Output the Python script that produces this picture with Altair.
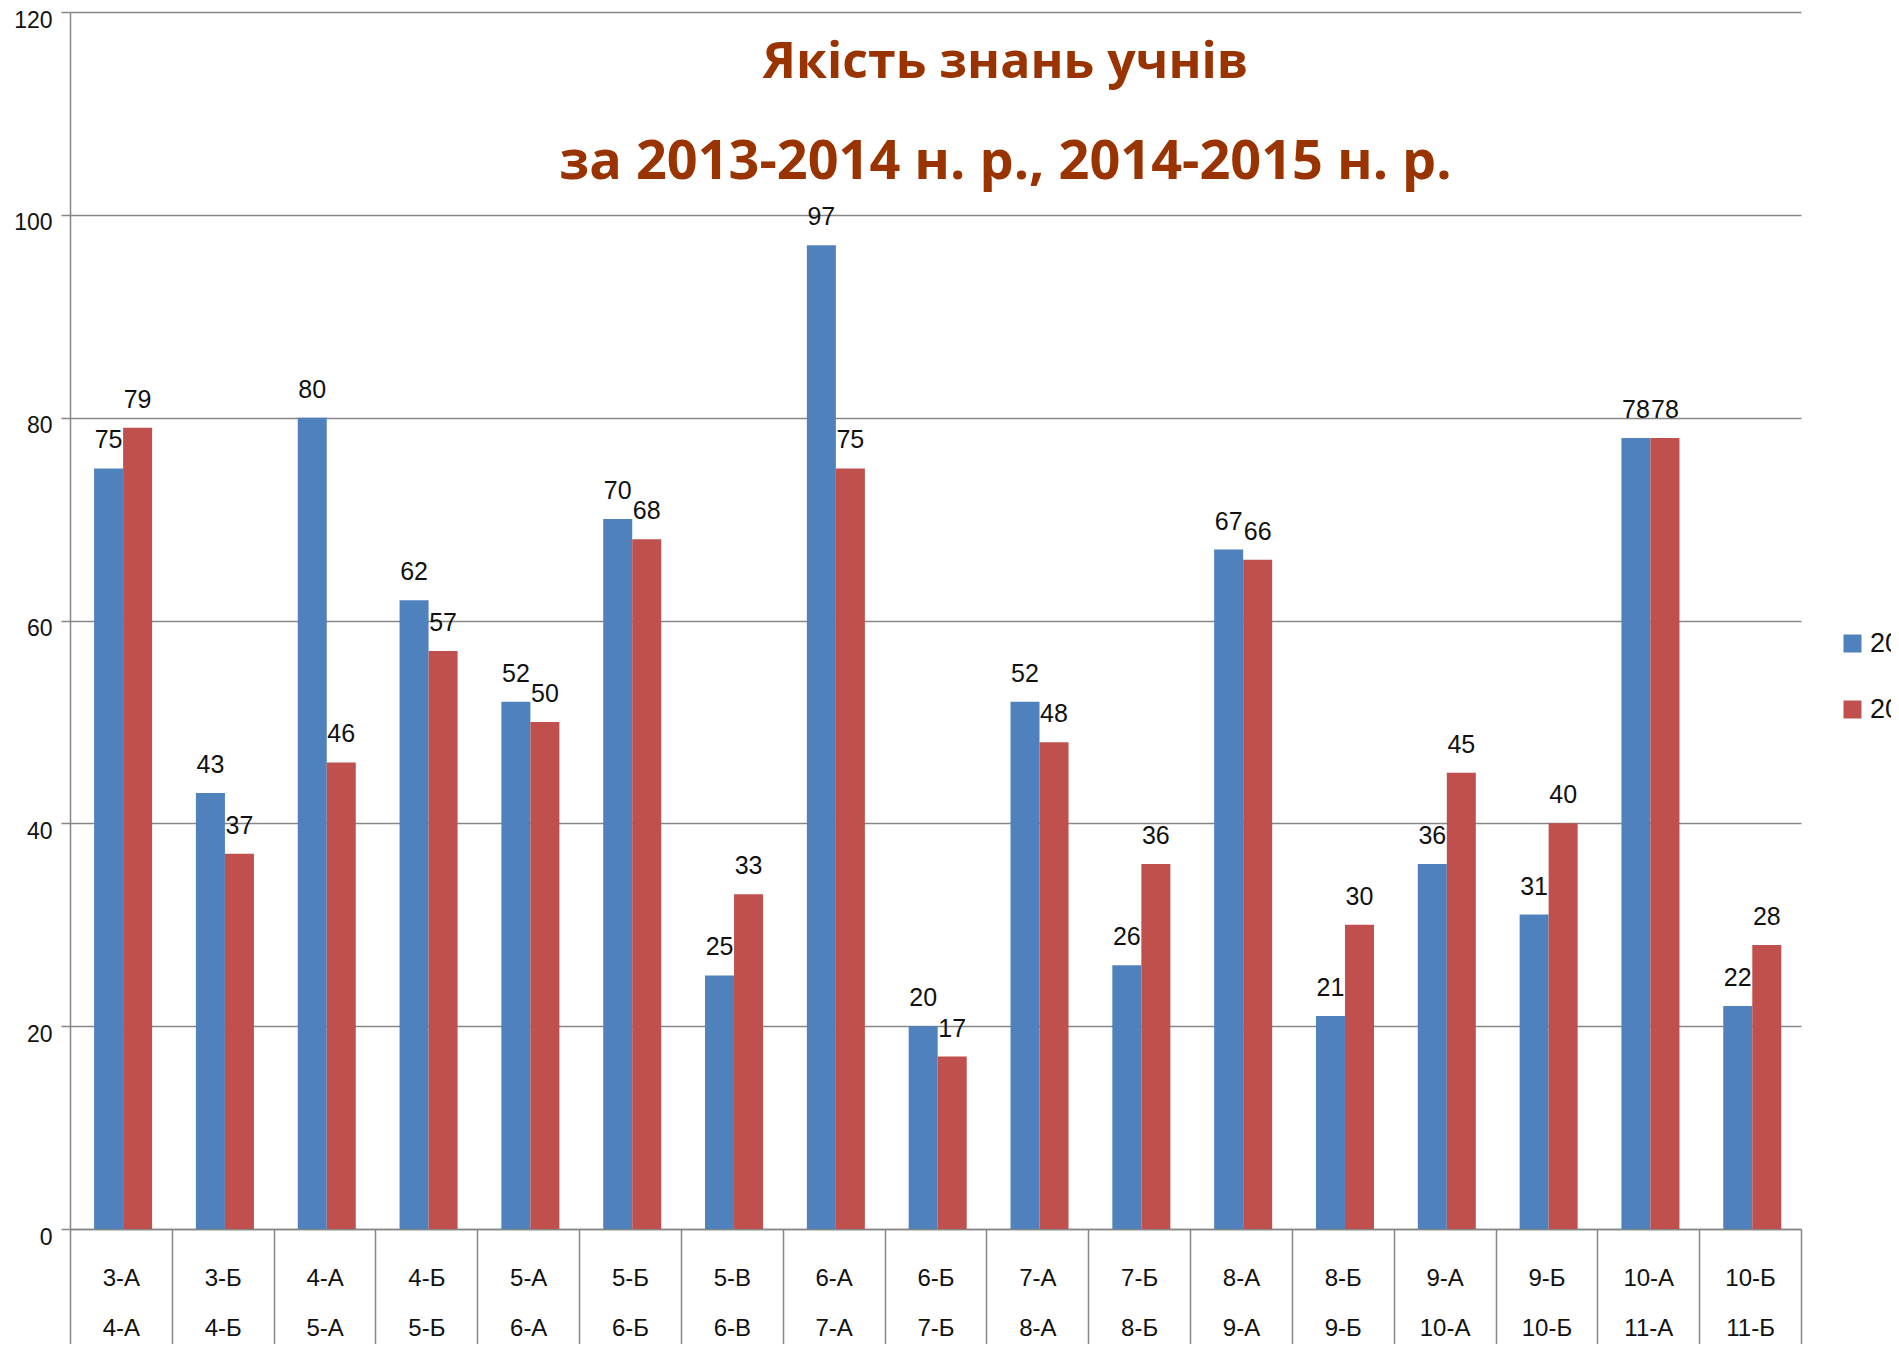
import altair as alt
import pandas as pd

classes_2014 = ["3-А", "3-Б", "4-А", "4-Б", "5-А", "5-Б", "5-В", "6-А", "6-Б",
                "7-А", "7-Б", "8-А", "8-Б", "9-А", "9-Б", "10-А", "10-Б"]
classes_2015 = ["4-А", "4-Б", "5-А", "5-Б", "6-А", "6-Б", "6-В", "7-А", "7-Б",
                "8-А", "8-Б", "9-А", "9-Б", "10-А", "10-Б", "11-А", "11-Б"]
values_2014 = [75, 43, 80, 62, 52, 70, 25, 97, 20, 52, 26, 67, 21, 36, 31, 78, 22]
values_2015 = [79, 37, 46, 57, 50, 68, 33, 75, 17, 48, 36, 66, 30, 45, 40, 78, 28]
series = ["2013-2014", "2014-2015"]
colors = ["#4F81BD", "#C0504D"]
y_ticks = [0, 20, 40, 60, 80, 100, 120]

cats = [f"{a}|{b}" for a, b in zip(classes_2014, classes_2015)]
rows = []
for c, v1, v2 in zip(cats, values_2014, values_2015):
    rows.append({"cat": c, "series": series[0], "value": v1})
    rows.append({"cat": c, "series": series[1], "value": v2})
df = pd.DataFrame(rows)

FONT = "Liberation Sans Narrow, Arial Narrow, Liberation Sans, sans-serif"
GRID = "#868686"

x_enc = alt.X(
    "cat:N", sort=cats,
    scale=alt.Scale(paddingInner=0, paddingOuter=0),
    axis=alt.Axis(
        title=None, labelAngle=0, labelExpr="split(datum.label, '|')",
        labelFont=FONT, labelFontSize=24, labelColor="#111111",
        labelLineHeight=50, labelBaseline="top", labelPadding=-93,
        tickBand="extent", tickSize=130, tickColor=GRID, tickWidth=1.5,
        domainColor=GRID, domainWidth=1.5, labelOverlap=False, labelLimit=0,
    ),
)
xoff_enc = alt.XOffset(
    "series:N", sort=series,
    scale=alt.Scale(paddingInner=0, paddingOuter=0.755, align=0.55),
)
y_enc = alt.Y(
    "value:Q",
    scale=alt.Scale(domain=[0, 120], nice=False),
    axis=alt.Axis(
        title=None, values=y_ticks, grid=True, gridColor=GRID, gridWidth=1.5,
        domainColor=GRID, domainWidth=1.5, tickColor=GRID, tickSize=9, tickWidth=1.5,
        labelFont=FONT, labelFontSize=23, labelColor="#111111", labelPadding=9,
        labelOffset=8,
    ),
)

bars = alt.Chart(df).mark_bar().encode(
    x=x_enc, xOffset=xoff_enc, y=y_enc,
    color=alt.Color(
        "series:N", sort=series,
        scale=alt.Scale(domain=series, range=colors),
        legend=alt.Legend(
            title=None, orient="none", legendX=1769, legendY=618,
            symbolType="square", symbolSize=324, symbolStrokeWidth=0,
            labelFont=FONT, labelFontSize=27, labelColor="#111111",
            rowPadding=38, labelOffset=4,
        ),
    ),
)

labels = alt.Chart(df).mark_text(
    dy=-28, fontSize=25, font=FONT, color="#111111", baseline="middle"
).encode(x=x_enc, xOffset=xoff_enc, y=y_enc, text="value:Q")

chart = alt.layer(bars, labels).properties(
    width=1731, height=1217,
    autosize=alt.AutoSizeParams(type="none"),
    padding={"left": 62, "top": 4, "right": 90, "bottom": 115},
    background="white",
    title=alt.TitleParams(
        text="Якість знань учнів",
        subtitle="за 2013-2014 н. р., 2014-2015 н. р.",
        font="Open Sans", fontSize=50, fontWeight="bold", color="#993300",
        subtitleFont="Open Sans", subtitleFontSize=54, subtitleFontWeight="bold",
        subtitleColor="#993300", subtitlePadding=48,
        anchor="middle", frame="group", baseline="top", offset=0, dx=70, dy=181,
    ),
).configure_view(stroke=None)

chart.save("out.html", embed_options={"renderer": "svg", "actions": False})
